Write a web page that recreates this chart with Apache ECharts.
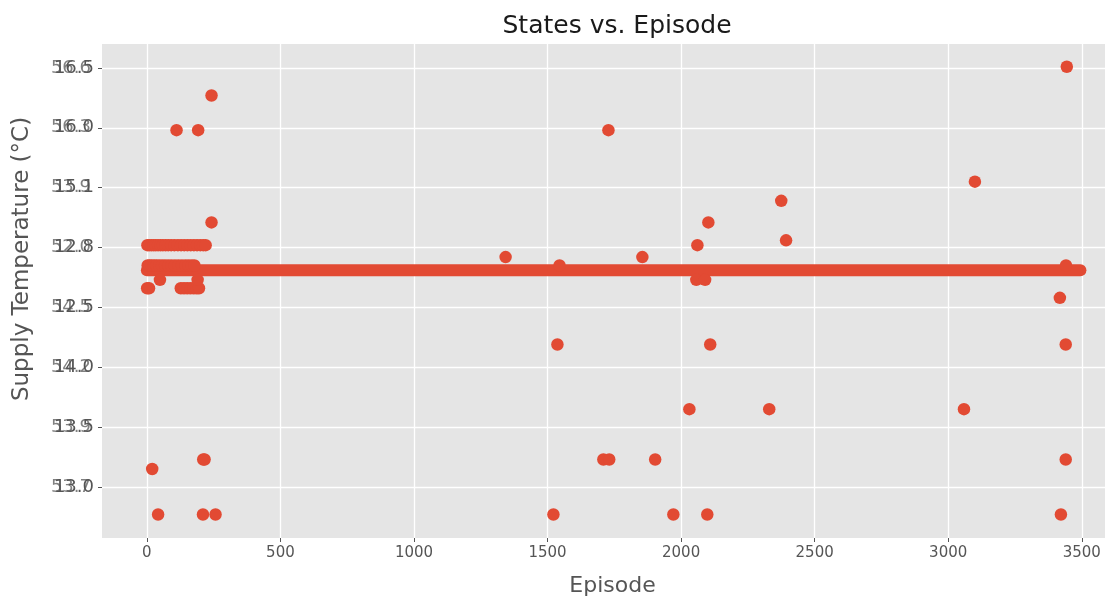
<!DOCTYPE html>
<html>
<head>
<meta charset="utf-8">
<script src="https://cdn.jsdelivr.net/npm/echarts@6/dist/echarts.min.js"></script>
<style>
  html, body { margin: 0; padding: 0; background: #fff; }
  #main { width: 1117px; height: 598px; }
</style>
</head>
<body>
<div id="main"></div>
<script>
// tick values on the y axis and the two overlapping label sets printed there
var yTicks = [16.5, 16.0, 15.5, 15.0, 14.5, 14.0, 13.5, 13.0];
var yLabelsA = ['16.5', '16.0', '15.1', '12.8', '12.5', '14.0', '13.5', '13.0'];
var yLabelsB = ['56.6', '56.3', '53.9', '52.0', '54.5', '54.2', '53.9', '53.7'];

// the long run of states at the same value
var baseEpisodes = [0, 3495];
var baseTemp = 14.81;

// dense rows near the start
var row1502 = [2, 9, 17, 25, 33, 42, 51, 60, 70, 80, 91, 103, 116, 128, 140, 152, 164, 176, 188, 200, 211, 220];
var row1485 = [3, 10, 18, 27, 36, 46, 57, 68, 80, 92, 105, 118, 131, 144, 156, 168, 178];
var row1466 = [1, 8, 127, 139, 151, 163, 175, 186, 195];

// scattered outliers
var outEpisodes = [242, 111, 192, 242, 20, 211, 216, 42, 210, 257, 49, 190,
  1343, 1545, 1537, 1522, 1728, 1709, 1731, 1855, 1903, 1971, 2031, 2061, 2057,
  2090, 2102, 2098, 2109, 2330, 2375, 2393, 3059, 3100, 3418, 3422, 3440, 3440, 3444, 3441];
var outTemps = [16.27, 15.98, 15.98, 15.21, 13.15, 13.23, 13.23, 12.77, 12.77, 12.77, 14.73, 14.73,
  14.92, 14.85, 14.19, 12.77, 15.98, 13.23, 13.23, 14.92, 13.23, 12.77, 13.65, 15.02, 14.73,
  14.73, 15.21, 12.77, 14.19, 13.65, 15.39, 15.06, 13.65, 15.55, 14.58, 12.77, 14.19, 13.23, 16.51, 14.85];

function drawChart() {
    var myChart = echarts.init(document.getElementById('main'));
    var red = '#E24A33';
    var font = 'DejaVu Sans';

    var points = [];
    row1502.forEach(function (e) { points.push([e, 15.02]); });
    row1485.forEach(function (e) { points.push([e, 14.85]); });
    row1466.forEach(function (e) { points.push([e, 14.66]); });
    outEpisodes.forEach(function (e, i) { points.push([e, outTemps[i]]); });

    function labelFrom(set) {
        return function (v) {
            for (var i = 0; i < yTicks.length; i++) {
                if (Math.abs(yTicks[i] - v) < 1e-6) return set[i];
            }
            return '';
        };
    }

    var yBase = {
        type: 'value',
        min: 12.574,
        max: 16.70,
        splitNumber: 8,
        position: 'left',
        axisLine: { show: false, onZero: false },
        axisLabel: {
            showMinLabel: false, showMaxLabel: false,
            color: '#555', fontSize: 18, fontFamily: font, margin: 8
        }
    };

    var option = {
        backgroundColor: '#fff',
        animation: false,
        title: {
            text: 'States vs. Episode',
            left: 612, top: 9, textAlign: 'center',
            textStyle: { fontFamily: font, fontSize: 25, fontWeight: 'normal', color: '#1a1a1a' }
        },
        grid: {
            left: 102, right: 12, top: 44, bottom: 60,
            containLabel: false,
            outerBoundsMode: 'none',
            show: true, backgroundColor: '#E5E5E5', borderWidth: 0
        },
        xAxis: {
            type: 'value',
            min: -168,
            max: 3587,
            splitNumber: 7,
            name: 'Episode',
            nameLocation: 'middle',
            nameGap: 37,
            nameTextStyle: { fontFamily: font, fontSize: 22, color: '#555', padding: [0, 0, 0, 18] },
            axisLine: { show: false, onZero: false },
            axisTick: { show: true, length: 4, lineStyle: { color: '#555' } },
            axisLabel: {
                showMinLabel: false, showMaxLabel: false,
                color: '#555', fontSize: 15, fontFamily: font, margin: 8,
                formatter: function (v) { return String(v); }
            },
            splitLine: { show: true, showMinLine: false, showMaxLine: false, lineStyle: { color: '#fff', width: 1.3 } }
        },
        yAxis: [
            Object.assign({}, yBase, {
                name: 'Supply Temperature (°C)',
                nameLocation: 'middle',
                nameGap: 68,
                nameTextStyle: { fontFamily: font, fontSize: 23, color: '#555', padding: [0, 0, 0, 64] },
                axisTick: { show: true, length: 4, lineStyle: { color: '#555' } },
                axisLabel: Object.assign({}, yBase.axisLabel, { formatter: labelFrom(yLabelsA) }),
                splitLine: { show: true, showMinLine: false, showMaxLine: false, lineStyle: { color: '#fff', width: 1.3 } }
            }),
            Object.assign({}, yBase, {
                axisTick: { show: false },
                axisLabel: Object.assign({}, yBase.axisLabel, { formatter: labelFrom(yLabelsB), color: 'rgba(85,85,85,0.75)', margin: 11 }),
                splitLine: { show: false }
            })
        ],
        series: [
            {
                type: 'line',
                yAxisIndex: 0,
                symbol: 'none',
                data: baseEpisodes.map(function (e) { return [e, baseTemp]; }),
                lineStyle: { color: red, width: 12, cap: 'round' },
                z: 2
            },
            {
                type: 'scatter',
                yAxisIndex: 0,
                symbolSize: 12.5,
                itemStyle: { color: red, opacity: 1 },
                data: points,
                z: 3
            }
        ]
    };

    option && myChart.setOption(option);
}

document.addEventListener('DOMContentLoaded', function () {
    drawChart();
});
</script>
</body>
</html>
